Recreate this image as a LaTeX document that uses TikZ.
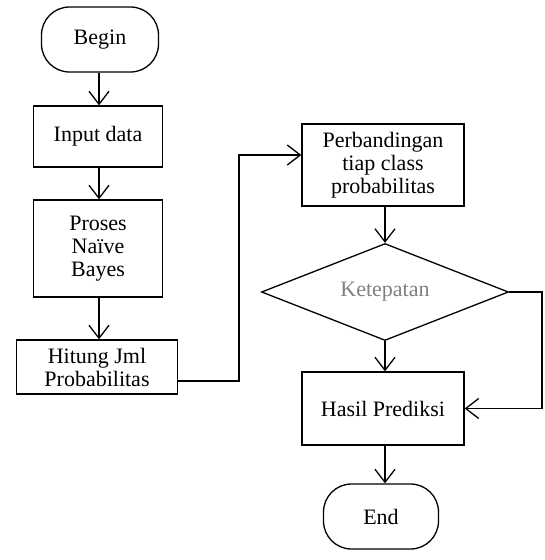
\documentclass[tikz,border=0pt]{standalone}
\usepackage{fontspec}
\setmainfont{Liberation Serif}
\usetikzlibrary{shapes.geometric,arrows.meta}
\begin{document}
\begin{tikzpicture}[x=1pt,y=-1pt,
 box/.style={draw,line width=1.3pt,inner sep=0pt,align=center,font=\fontsize{22}{23}\selectfont},
 term/.style={box,rounded corners=28pt},
 arr/.style={line width=1.3pt,-{Straight Barb[length=13pt,width=20pt,line width=1.3pt]}},
 ln/.style={line width=1.3pt}]
\useasboundingbox (0,0) rectangle (545,560);
\node[term,minimum width=117pt,minimum height=65pt] (begin) at (100,39.5) {Begin};
\node[box,minimum width=129pt,minimum height=61pt] (input) at (98,136.5) {Input data};
\node[box,minimum width=129pt,minimum height=97pt] (proses) at (98,248.5) {Proses\\Naïve\\Bayes};
\node[box,minimum width=161pt,minimum height=54pt] (hitung) at (97,367) {Hitung Jml\\Probabilitas};
\node[box,minimum width=162pt,minimum height=82pt] (perb) at (383,165) {Perbandingan\\tiap class\\probabilitas};
\node[draw,line width=1.3pt,shape=diamond,inner sep=0pt,aspect=2.55,minimum width=247pt,minimum height=97pt,text=black!50,font=\fontsize{22}{23}\selectfont] (dia) at (385,292) {Ketepatan};
\node[box,minimum width=162pt,minimum height=73pt] (hasil) at (383,408.5) {Hasil Prediksi};
\node[term,minimum width=115pt,minimum height=65pt] (end) at (381,516.5) {End};
\coordinate (bend) at (239,155);
\coordinate (loop) at (542,292);
\draw[arr] (begin.south -| 99,0) -- (99,0 |- input.north);
\draw[arr] (input.south -| 99,0) -- (99,0 |- proses.north);
\draw[arr] (proses.south -| 99,0) -- (99,0 |- hitung.north);
\draw[arr] ([yshift=-14pt]hitung.east) -| (bend) -- (perb.west |- bend);
\draw[arr] (perb.south -| dia.north) -- (dia.north);
\draw[arr] (dia.south) -- (dia.south |- hasil.north);
\draw[arr] (dia.east) -- (loop) |- (hasil.east);
\draw[arr] (hasil.south -| dia.south) -- (dia.south |- end.north);
\end{tikzpicture}
\end{document}
